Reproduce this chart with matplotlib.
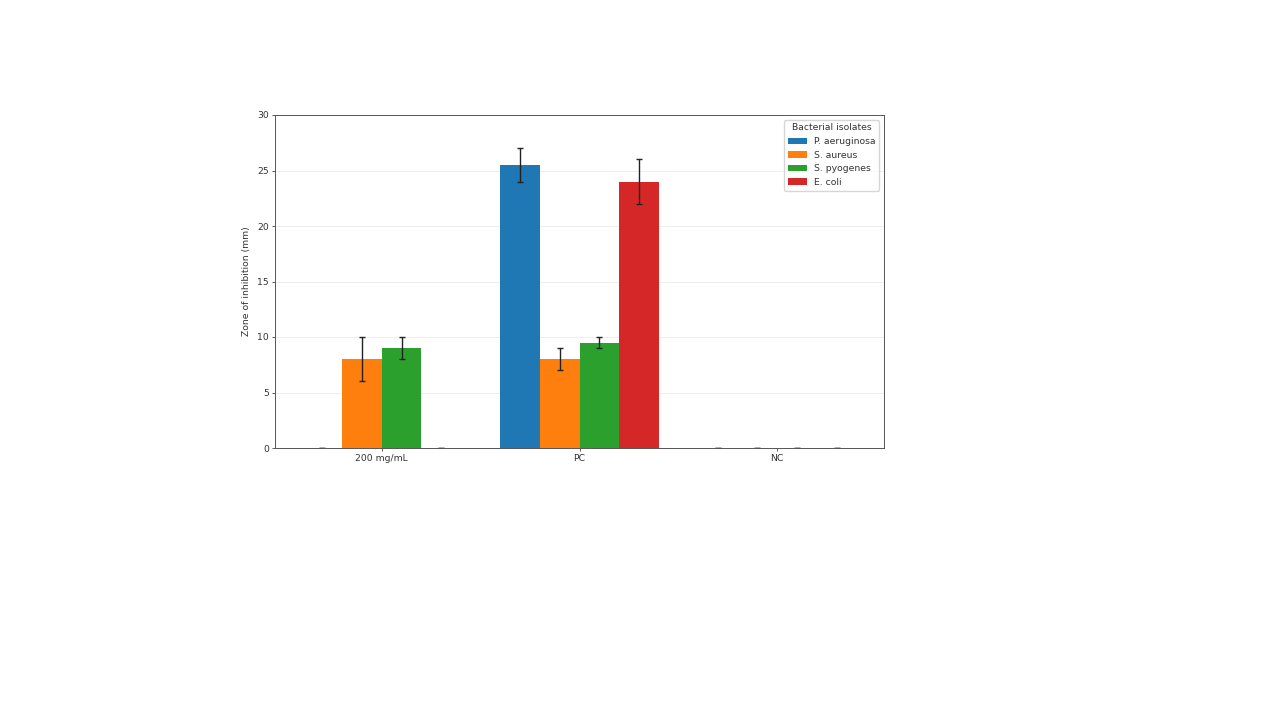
import numpy as np
import matplotlib
matplotlib.use("Agg")
from matplotlib import pyplot as plt

# treatments and isolates
groups = ['200 mg/mL', 'PC', 'NC']
isolates = ['P. aeruginosa', 'S. aureus', 'S. pyogenes', 'E. coli']

# zone of inhibition means (mm), one list per isolate across groups
p_aeruginosa = [0, 25.5, 0]
s_aureus = [8, 8, 0]
s_pyogenes = [9, 9.5, 0]
e_coli = [0, 24, 0]

# standard deviations
p_aeruginosa_err = [0, 1.5, 0]
s_aureus_err = [2, 1, 0]
s_pyogenes_err = [1, 0.5, 0]
e_coli_err = [0, 2, 0]

means = [p_aeruginosa, s_aureus, s_pyogenes, e_coli]
errs = [p_aeruginosa_err, s_aureus_err, s_pyogenes_err, e_coli_err]
colors = ['#1f77b4', '#ff7f0e', '#2ca02c', '#d62728']

plt.rcParams['font.family'] = 'DejaVu Sans'
plt.rcParams['font.size'] = 6.7
plt.rcParams['text.color'] = '#333333'
plt.rcParams['xtick.labelcolor'] = '#333333'
plt.rcParams['ytick.labelcolor'] = '#333333'
plt.rcParams['axes.labelcolor'] = '#333333'

fig = plt.figure(figsize=(12.8, 7.2), dpi=100)
ax = fig.add_axes([275/1280, 1 - 448/720, 609/1280, 333/720])

x = np.arange(len(groups))
w = 0.2
for i, (name, m, e, c) in enumerate(zip(isolates, means, errs, colors)):
    ax.bar(x + (i - 1.5)*w, m, w, yerr=e, color=c, label=name,
           capsize=2, error_kw={'elinewidth': 1.0, 'capthick': 1.0, 'ecolor': '#222222'})

ax.set_xticks(x)
ax.set_xticklabels(groups)
ax.set_ylim(0, 30)
ax.set_ylabel('Zone of inhibition (mm)')
ax.yaxis.grid(True, alpha=0.25, linewidth=0.6)
ax.set_axisbelow(True)
ax.tick_params(length=2.5, width=0.6, pad=2, color='#444444')
for s in ax.spines.values():
    s.set_linewidth(0.7)
    s.set_color('#555555')
ax.legend(title='Bacterial isolates', loc='upper right', fontsize=6.7, title_fontsize=6.7)

fig.savefig('out.png', dpi=100)
